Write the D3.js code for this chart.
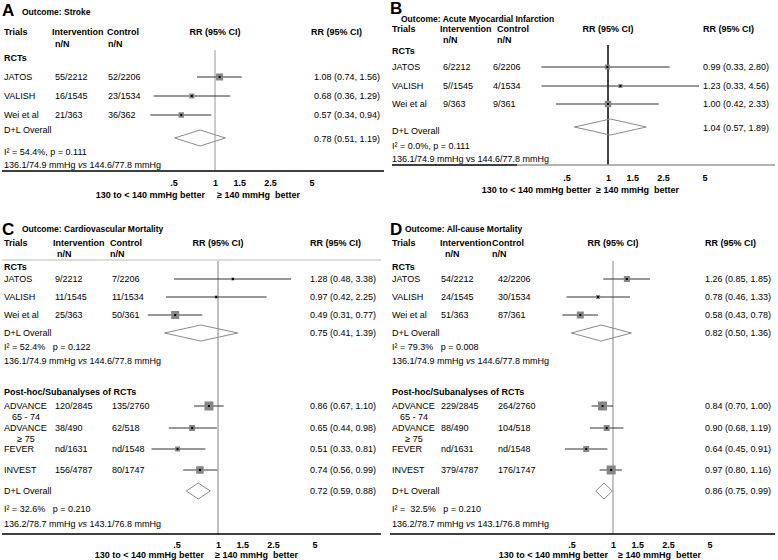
<!DOCTYPE html>
<html><head><meta charset="utf-8">
<script src="https://cdn.jsdelivr.net/npm/d3@7"></script>
<style>
body{margin:0;background:#fff}
svg{display:block;font-family:Arial,"Liberation Sans",Helvetica,sans-serif}
text{white-space:pre}
</style></head><body>
<svg id="chart" width="778" height="560"></svg>
<script>
// ---------------- data ----------------
const tickValues = [0.5, 1, 1.5, 2.5, 5];
const tickLabels = [".5", "1", "1.5", "2.5", "5"];
const rctTrials = ["JATOS", "VALISH", "Wei et al"];
const postTrials = ["ADVANCE|65 - 74", "ADVANCE|≥ 75", "FEVER", "INVEST"];
const betterLabels = ["130 to < 140 mmHg better", "≥ 140 mmHg  better"];
const rctBP = ["136.1/74.9 mmHg ", "vs", " 144.6/77.8 mmHg"];
const postBP = ["136.2/78.7 mmHg ", "vs", " 143.1/76.8 mmHg"];

// A: Stroke
const strokeInt = ["55/2212", "16/1545", "21/363"];
const strokeCtl = ["52/2206", "23/1534", "36/362"];
const strokeRR = [1.08, 0.68, 0.57];
const strokeLo = [0.74, 0.36, 0.34];
const strokeHi = [1.56, 1.29, 0.94];
const strokeWeight = [49, 25, 30];
const strokeOverall = [0.78, 0.51, 1.19];
const strokeHet = "I² = 54.4%, p = 0.111";

// B: Acute Myocardial Infarction
const amiInt = ["6/2212", "5//1545", "9/363"];
const amiCtl = ["6/2206", "4/1534", "9/361"];
const amiRR = [0.99, 1.23, 1.00];
const amiLo = [0.33, 0.33, 0.42];
const amiHi = [2.80, 4.56, 2.33];
const amiWeight = [25, 16, 42];
const amiOverall = [1.04, 0.57, 1.89];
const amiHet = "I² = 0.0%, p = 0.111";

// C: Cardiovascular Mortality
const cvInt = ["9/2212", "11/1545", "25/363"];
const cvCtl = ["7/2206", "11/1534", "50/361"];
const cvRR = [1.28, 0.97, 0.49];
const cvLo = [0.48, 0.42, 0.31];
const cvHi = [3.38, 2.25, 0.77];
const cvWeight = [9, 9, 64];
const cvOverall = [0.75, 0.41, 1.39];
const cvHet = "I² = 52.4%   p = 0.122";
const cvPostInt = ["120/2845", "38/490", "nd/1631", "156/4787"];
const cvPostCtl = ["135/2760", "62/518", "nd/1548", "80/1747"];
const cvPostRR = [0.86, 0.65, 0.51, 0.74];
const cvPostLo = [0.67, 0.44, 0.33, 0.56];
const cvPostHi = [1.10, 0.98, 0.81, 0.99];
const cvPostWeight = [81, 36, 25, 56];
const cvPostOverall = [0.72, 0.59, 0.88];
const cvPostHet = "I² = 32.6%   p = 0.210";

// D: All-cause Mortality
const allInt = ["54/2212", "24/1545", "51/363"];
const allCtl = ["42/2206", "30/1534", "87/361"];
const allRR = [1.26, 0.78, 0.58];
const allLo = [0.85, 0.46, 0.43];
const allHi = [1.85, 1.33, 0.78];
const allWeight = [36, 16, 49];
const allOverall = [0.82, 0.50, 1.36];
const allHet = "I² = 79.3%   p = 0.008";
const allPostInt = ["229/2845", "88/490", "nd/1631", "379/4787"];
const allPostCtl = ["264/2760", "104/518", "nd/1548", "176/1747"];
const allPostRR = [0.84, 0.90, 0.64, 0.97];
const allPostLo = [0.70, 0.68, 0.45, 0.80];
const allPostHi = [1.00, 1.19, 0.91, 1.16];
const allPostWeight = [81, 36, 36, 81];
const allPostOverall = [0.86, 0.75, 0.99];
const allPostHet = "I² =  32.5%   p = 0.210";

// ---------------- drawing ----------------
const svg = d3.select("#chart");
const fmt = d3.format(".2f");
const rrText = (r, l, h) => `${fmt(r)} (${fmt(l)}, ${fmt(h)})`;
const boxSize = d3.scaleSqrt().domain([0, 100]).range([0, 10]);
const K = 60; // px per ln unit

function group(names, iv, cv, rr, lo, hi, w, ov, het, bp, lay) {
  return Object.assign({names, iv, cv, rr, lo, hi, w, ov, het, bp}, lay);
}

function drawPanel(P) {
  const g = svg.append("g");
  const x = d3.scaleLog().domain([0.2, 6])
    .range([P.ref + K * Math.log(0.2), P.ref + K * Math.log(6)]);
  const txt = (xx, yy, t, opt = {}) => g.append("text")
    .attr("x", xx).attr("y", yy).attr("dy", "0.35em")
    .attr("font-size", opt.size || 9)
    .attr("font-weight", opt.bold ? "bold" : "normal")
    .attr("text-anchor", opt.anchor || "start")
    .attr("fill", "#000").text(t);

  g.append("text").attr("x", P.letterX).attr("y", P.letterY)
    .attr("font-size", 17).attr("font-weight", "bold").text(P.letter);
  txt(P.titleX, P.titleY, P.title, {bold: true, size: 8.5});

  txt(P.cName, P.yHead, "Trials", {bold: true});
  txt(P.cInt, P.yHead, "Intervention", {bold: true});
  txt(P.cCtl, P.yHead, "Control", {bold: true});
  txt(P.ref, P.yHead, "RR (95% CI)", {bold: true, anchor: "middle"});
  txt(P.cRR, P.yHead, "RR (95% CI)", {bold: true});
  txt(P.cIntNN, P.yNN, "n/N", {bold: true});
  txt(P.cCtlNN, P.yNN, "n/N", {bold: true});

  if (P.sepY) g.append("line").attr("x1", P.axisX[0]).attr("x2", P.axisX[1])
    .attr("y1", P.sepY).attr("y2", P.sepY).attr("stroke", "#d0d0d0").attr("stroke-width", 1.5);

  g.append("line").attr("x1", x(1)).attr("x2", x(1))
    .attr("y1", P.refTop).attr("y2", P.axisY)
    .attr("stroke", P.refColor).attr("stroke-width", P.refWidth);

  P.groups.forEach(G => {
    txt(P.cName, G.labelY, G.label, {bold: true});
    G.names.forEach((n, i) => {
      const y = G.rowsY[i];
      const parts = n.split("|");
      txt(P.cName, y, parts[0]);
      if (parts[1]) txt(P.cName + 22, y + 11, parts[1], {anchor: "middle"});
      txt(P.cIntVal, y, G.iv[i]);
      txt(P.cCtlVal, y, G.cv[i]);
      txt(P.cRRVal, y, rrText(G.rr[i], G.lo[i], G.hi[i]));
      g.append("line").attr("x1", x(G.lo[i])).attr("x2", x(G.hi[i]))
        .attr("y1", y).attr("y2", y).attr("stroke", "#333").attr("stroke-width", 1);
      const s = boxSize(G.w[i]);
      g.append("rect").attr("x", x(G.rr[i]) - s / 2).attr("y", y - s / 2)
        .attr("width", s).attr("height", s).attr("fill", "#858585");
      g.append("rect").attr("x", x(G.rr[i]) - 1).attr("y", y - 1)
        .attr("width", 2).attr("height", 2).attr("fill", "#000");
    });
    txt(P.cName, G.ovLabelY, "D+L Overall");
    const [r, l, h] = G.ov, dh = 8, yd = G.ovY;
    g.append("path")
      .attr("d", `M${x(l)},${yd}L${x(r)},${yd - dh}L${x(h)},${yd}L${x(r)},${yd + dh}Z`)
      .attr("fill", "none").attr("stroke", "#8a8a8a").attr("stroke-width", 1);
    txt(P.cRRVal, G.ovTextY, rrText(r, l, h));
    txt(P.cName, G.hetY, G.het);
    const t = txt(P.cName, G.bpY, null);
    t.append("tspan").text(G.bp[0]);
    t.append("tspan").attr("font-style", P.vsItalic ? "italic" : "normal").text(G.bp[1]);
    t.append("tspan").text(G.bp[2]);
  });

  // axis
  if (P.axisSplit) {
    g.append("line").attr("x1", P.axisX[0]).attr("x2", P.axisSplit)
      .attr("y1", P.axisY).attr("y2", P.axisY).attr("stroke", "#000").attr("stroke-width", 1.5);
    g.append("line").attr("x1", P.axisSplit).attr("x2", P.axisX[1])
      .attr("y1", P.axisY).attr("y2", P.axisY).attr("stroke", "#999").attr("stroke-width", 1.5);
  } else {
    g.append("line").attr("x1", P.axisX[0]).attr("x2", P.axisX[1])
      .attr("y1", P.axisY).attr("y2", P.axisY).attr("stroke", "#000").attr("stroke-width", 1.5);
  }
  const ax = g.append("g").attr("transform", `translate(0,${P.tickY})`)
    .call(d3.axisBottom(x).tickValues(tickValues)
      .tickFormat((d, i) => tickLabels[i]).tickSize(0).tickPadding(0));
  ax.select(".domain").remove();
  ax.selectAll("text").attr("dy", "0.35em").attr("y", 0)
    .attr("font-size", 9).attr("font-weight", "bold")
    .attr("font-family", "Arial, 'Liberation Sans', sans-serif").attr("fill", "#000");
  txt(x(1) + P.betterOff[0], P.betterY, betterLabels[0], {bold: true, anchor: "end"});
  txt(x(1) + P.betterOff[1], P.betterY, betterLabels[1], {bold: true});
}

// Panel A
drawPanel({
  letter: "A", letterX: 2, letterY: 16, title: "Outcome: Stroke", titleX: 22, titleY: 12,
  ref: 215, cName: 4, cInt: 52, cIntNN: 55, cIntVal: 55, cCtl: 107, cCtlNN: 108, cCtlVal: 108,
  cRR: 311, cRRVal: 314, yHead: 32, yNN: 44, refTop: 50, refColor: "#999", refWidth: 1,
  axisY: 171, axisX: [2, 384], tickY: 183, betterY: 195, betterOff: [-10, 2], vsItalic: true,
  groups: [group(rctTrials, strokeInt, strokeCtl, strokeRR, strokeLo, strokeHi, strokeWeight,
    strokeOverall, strokeHet, rctBP,
    {label: "RCTs", labelY: 58, rowsY: [77, 96, 115], ovLabelY: 130, ovY: 138, ovTextY: 139, hetY: 152, bpY: 165})]
});

// Panel B
drawPanel({
  letter: "B", letterX: 390, letterY: 14, title: "Outcome: Acute Myocardial Infarction", titleX: 401, titleY: 19,
  ref: 608, cName: 392, cInt: 440, cIntNN: 443, cIntVal: 443, cCtl: 497, cCtlNN: 497, cCtlVal: 493,
  cRR: 703, cRRVal: 703, yHead: 29, yNN: 39.5, refTop: 45, refColor: "#000", refWidth: 1.5,
  axisY: 165, axisX: [392, 775], axisSplit: 517, tickY: 178, betterY: 190, betterOff: [-17, -12], vsItalic: false,
  groups: [group(rctTrials, amiInt, amiCtl, amiRR, amiLo, amiHi, amiWeight,
    amiOverall, amiHet, rctBP,
    {label: "RCTs", labelY: 51, rowsY: [67, 86, 104], ovLabelY: 131, ovY: 127, ovTextY: 128, hetY: 146, bpY: 159})]
});

// Panel C
drawPanel({
  letter: "C", letterX: 2, letterY: 235, title: "Outcome: Cardiovascular Mortality", titleX: 22, titleY: 229,
  ref: 218, cName: 4, cInt: 53, cIntNN: 57, cIntVal: 55, cCtl: 110, cCtlNN: 110, cCtlVal: 112,
  cRR: 310, cRRVal: 310, yHead: 243, yNN: 254, sepY: 260, refTop: 261, refColor: "#aaa", refWidth: 1.5,
  axisY: 534, axisX: [2, 381], tickY: 545, betterY: 555, betterOff: [-14, -3], vsItalic: true,
  groups: [
    group(rctTrials, cvInt, cvCtl, cvRR, cvLo, cvHi, cvWeight, cvOverall, cvHet, rctBP,
      {label: "RCTs", labelY: 267, rowsY: [279, 297, 315], ovLabelY: 333, ovY: 333, ovTextY: 333, hetY: 347, bpY: 361}),
    group(postTrials, cvPostInt, cvPostCtl, cvPostRR, cvPostLo, cvPostHi, cvPostWeight, cvPostOverall, cvPostHet, postBP,
      {label: "Post-hoc/Subanalyses of RCTs", labelY: 392, rowsY: [406, 428, 449, 470], ovLabelY: 491, ovY: 491, ovTextY: 491, hetY: 509, bpY: 524})
  ]
});

// Panel D
drawPanel({
  letter: "D", letterX: 390, letterY: 235, title: "Outcome: All-cause Mortality", titleX: 405, titleY: 229,
  ref: 613, cName: 392, cInt: 440, cIntNN: 445, cIntVal: 441, cCtl: 492, cCtlNN: 492, cCtlVal: 498,
  cRR: 705, cRRVal: 705, yHead: 243, yNN: 254, refTop: 261, refColor: "#888", refWidth: 1,
  axisY: 534, axisX: [390, 775], tickY: 545, betterY: 555, betterOff: [-5, 5], vsItalic: true,
  groups: [
    group(rctTrials, allInt, allCtl, allRR, allLo, allHi, allWeight, allOverall, allHet, rctBP,
      {label: "RCTs", labelY: 267, rowsY: [279, 297, 315], ovLabelY: 333, ovY: 333, ovTextY: 333, hetY: 347, bpY: 361}),
    group(postTrials, allPostInt, allPostCtl, allPostRR, allPostLo, allPostHi, allPostWeight, allPostOverall, allPostHet, postBP,
      {label: "Post-hoc/Subanalyses of RCTs", labelY: 392, rowsY: [406, 428, 449, 470], ovLabelY: 491, ovY: 491, ovTextY: 491, hetY: 509, bpY: 524})
  ]
});
</script>
</body></html>
